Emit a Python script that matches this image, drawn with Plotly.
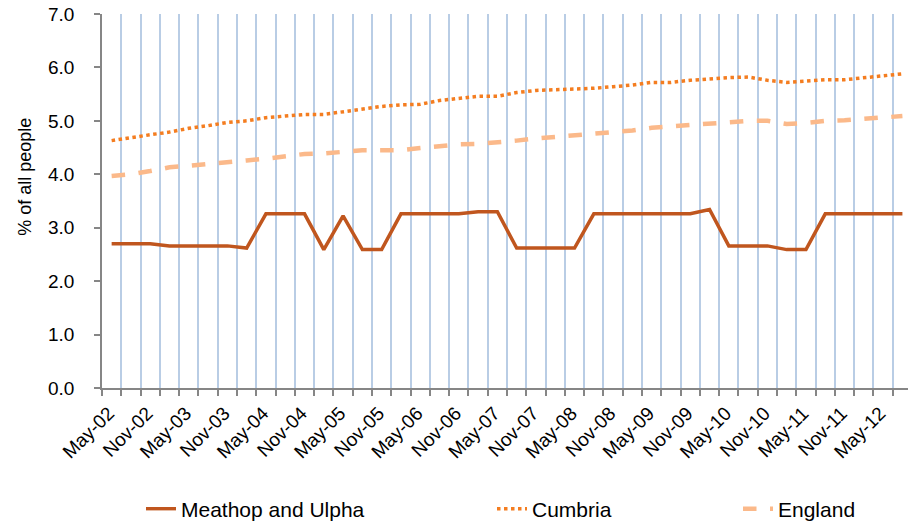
import plotly.graph_objects as go

# Quarterly periods May-02 .. Aug-12
quarters = []
for yr in range(2, 13):
    for m in ["Feb", "May", "Aug", "Nov"]:
        quarters.append(f"{m}-{yr:02d}")
quarters = quarters[quarters.index("May-02"):quarters.index("Aug-12") + 1]

meathop = [2.70, 2.70, 2.70, 2.66, 2.66, 2.66, 2.66, 2.62, 3.26, 3.26,
           3.26, 2.59, 3.22, 2.59, 2.59, 3.26, 3.26, 3.26, 3.26, 3.30,
           3.30, 2.62, 2.62, 2.62, 2.62, 3.26, 3.26, 3.26, 3.26, 3.26,
           3.26, 3.34, 2.66, 2.66, 2.66, 2.59, 2.59, 3.26, 3.26, 3.26,
           3.26, 3.26]
cumbria = [4.63, 4.69, 4.74, 4.79, 4.86, 4.91, 4.97, 5.00, 5.06, 5.09,
           5.12, 5.12, 5.17, 5.21, 5.27, 5.30, 5.31, 5.38, 5.42, 5.46,
           5.46, 5.53, 5.57, 5.58, 5.60, 5.61, 5.64, 5.67, 5.72, 5.72,
           5.76, 5.79, 5.81, 5.82, 5.76, 5.72, 5.75, 5.77, 5.77, 5.81,
           5.85, 5.88]
england = [3.97, 4.00, 4.06, 4.13, 4.16, 4.20, 4.23, 4.26, 4.29, 4.34,
           4.38, 4.39, 4.42, 4.45, 4.45, 4.45, 4.49, 4.53, 4.56, 4.57,
           4.59, 4.63, 4.67, 4.70, 4.71, 4.74, 4.78, 4.82, 4.87, 4.90,
           4.93, 4.94, 4.97, 5.00, 5.00, 4.94, 4.96, 5.00, 5.01, 5.04,
           5.06, 5.09]

series_names = ["Meathop and Ulpha", "Cumbria", "England"]

idx = list(range(len(quarters)))
label_idx = [i for i in idx if quarters[i].startswith(("May", "Nov"))]
label_txt = [quarters[i] for i in label_idx]

FONT = "Liberation Sans, Arial, sans-serif"

fig = go.Figure()
fig.add_trace(go.Scatter(x=idx, y=meathop, name=series_names[0], mode="lines",
                         line=dict(color="#C0561E", width=3.5), legend="legend"))
fig.add_trace(go.Scatter(x=idx, y=cumbria, name=series_names[1], mode="lines",
                         line=dict(color="#F47D20", width=3.5, dash="dot"), legend="legend2"))
fig.add_trace(go.Scatter(x=idx, y=england, name=series_names[2], mode="lines",
                         line=dict(color="#FBB98A", width=4.5, dash="dash"), legend="legend3"))

leg_common = dict(orientation="h", xref="container", yref="container",
                  yanchor="middle", y=1 - 509 / 526, xanchor="left",
                  font=dict(family=FONT, size=21, color="#000000"),
                  bgcolor="rgba(0,0,0,0)")

fig.update_layout(
    width=908, height=526,
    margin=dict(l=102, r=0, t=14, b=138, autoexpand=False),
    paper_bgcolor="white", plot_bgcolor="white",
    font=dict(family=FONT, size=19, color="#000000"),
    showlegend=True,
    legend=dict(x=141 / 908, **leg_common),
    legend2=dict(x=492 / 908, **leg_common),
    legend3=dict(x=738 / 908, **leg_common),
    xaxis=dict(
        range=[-0.5, 41.29], automargin=False,
        tickmode="array", tickvals=label_idx, ticktext=label_txt,
        tickangle=-45, ticks="", showgrid=False, zeroline=False,
        ticklabelstandoff=5, ticklabelshift=-3, ticklabeloverflow="allow",
        showline=True, linecolor="#868686", linewidth=1.5,
        tickfont=dict(family=FONT, size=19),
        minor=dict(tickmode="linear", tick0=-0.5, dtick=1, ticks="outside",
                   ticklen=6, tickcolor="#868686", tickwidth=1.5,
                   showgrid=True, gridcolor="#B9CDE5", gridwidth=2),
    ),
    yaxis=dict(
        range=[0, 7], dtick=1, tickformat=".1f", ticks="outside", ticklen=6,
        automargin=False, ticklabelstandoff=16, ticklabeloverflow="allow",
        tickcolor="#868686", tickwidth=1.5, showgrid=False, zeroline=False,
        showline=True, linecolor="#868686", linewidth=1.5,
        tickfont=dict(family=FONT, size=19),
    ),
    annotations=[dict(text="% of all people", textangle=-90, xref="paper", yref="paper",
                      x=(25 - 102) / 806, y=(388.3 - 177) / 374,
                      xanchor="center", yanchor="middle", showarrow=False,
                      font=dict(family=FONT, size=18, color="#000000"))],
)

fig.write_html("out.html", config={"displayModeBar": False},
               post_script="document.body.style.margin='0';document.body.style.overflow='hidden';")
